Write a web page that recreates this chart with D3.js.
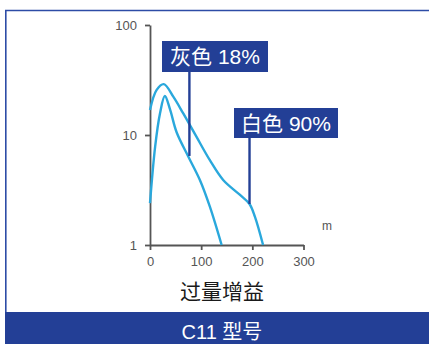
<!DOCTYPE html>
<html><head><meta charset="utf-8">
<script src="https://cdn.jsdelivr.net/npm/d3@7"></script>
<style>
html,body{margin:0;padding:0;background:#fff;}
svg{display:block;}
text{font-family:"Liberation Sans","Noto Sans CJK SC",sans-serif;}
</style></head>
<body>
<script>
// Data
const xTicks = [0, 100, 200, 300];
const yTicks = [1, 10, 100];
const grayX = [0, 10, 19.5, 29, 39, 52, 75, 97.5, 117, 140];
const grayY = [2.4, 7.8, 15.7, 22.6, 17.2, 10.6, 6.35, 3.9, 2.23, 1];
const whiteX = [0, 13, 27, 45.5, 65, 91, 117, 143, 176, 194.5, 205, 221];
const whiteY = [16.9, 25.7, 29, 22.3, 15.7, 9.6, 5.9, 3.9, 2.85, 2.36, 1.81, 1];
const labels = [
  {text: "灰色 18%", px: 77, pv: 6.45},
  {text: "白色 90%", px: 194.5, pv: 2.36}
];
const xTitle = "过量增益";
const unit = "m";
const footer = "C11 型号";

const W = 429, H = 344;
const blue = "#233f96", cyan = "#2aa8dc", axisC = "#555";

const svg = d3.select("body").append("svg").attr("width", W).attr("height", H);

// frame
svg.append("line").attr("x1", 5).attr("x2", W).attr("y1", 10.5).attr("y2", 10.5)
  .attr("stroke", "#2d4ca6").attr("stroke-width", 1.6);
svg.append("line").attr("x1", 5.8).attr("x2", 5.8).attr("y1", 10).attr("y2", 312)
  .attr("stroke", "#2d4ca6").attr("stroke-width", 1.6);
svg.append("rect").attr("x", 5).attr("y", 312).attr("width", W - 5).attr("height", H - 312).attr("fill", blue);
svg.append("text").attr("x", 222).attr("y", 339).attr("text-anchor", "middle")
  .attr("fill", "#fff").attr("font-size", 20).text(footer);

const x = d3.scaleLinear().domain([0, 300]).range([150, 303.5]);
const y = d3.scaleLog().domain([1, 100]).range([245, 25]);

// axes
const g = svg.append("g");
const xAxis = g.append("g").attr("transform", "translate(0,245)")
  .call(d3.axisBottom(x).tickValues(xTicks).tickSize(5).tickSizeOuter(0).tickPadding(7).tickFormat(d3.format("d")));
const yAxis = g.append("g").attr("transform", "translate(150,0)")
  .call(d3.axisLeft(y).tickValues(yTicks).tickSize(5).tickSizeOuter(0).tickPadding(8).tickFormat(d3.format("d")));
[xAxis, yAxis].forEach(a => {
  a.select(".domain").attr("stroke", axisC).attr("stroke-width", 1.8);
  a.selectAll(".tick line").attr("stroke", axisC).attr("stroke-width", 1.8);
  a.selectAll(".tick text").attr("fill", "#555").attr("font-size", 13).attr("font-family", "Liberation Sans");
});

// curves
const line = d3.line().x(d => x(d[0])).y(d => y(d[1])).curve(d3.curveCatmullRom.alpha(0.5));
svg.append("path").datum(whiteX.map((v, i) => [v, whiteY[i]]))
  .attr("d", line).attr("fill", "none").attr("stroke", cyan).attr("stroke-width", 2.4);
svg.append("path").datum(grayX.map((v, i) => [v, grayY[i]]))
  .attr("d", line).attr("fill", "none").attr("stroke", cyan).attr("stroke-width", 2.4);

// label boxes
const boxes = [
  {x0: 162, y0: 41, w: 106, h: 31},
  {x0: 234, y0: 108, w: 104, h: 30}
];
labels.forEach((l, i) => {
  const b = boxes[i];
  svg.append("line").attr("x1", x(l.px)).attr("x2", x(l.px)).attr("y1", b.y0 + b.h).attr("y2", y(l.pv))
    .attr("stroke", blue).attr("stroke-width", 2.4);
  svg.append("rect").attr("x", b.x0).attr("y", b.y0).attr("width", b.w).attr("height", b.h).attr("fill", blue);
  svg.append("text").attr("x", b.x0 + b.w / 2).attr("y", b.y0 + b.h / 2 + 7.5).attr("text-anchor", "middle")
    .attr("fill", "#fff").attr("font-size", 21).text(l.text);
});

// unit and title
svg.append("text").attr("x", 327).attr("y", 230).attr("text-anchor", "middle")
  .attr("fill", "#555").attr("font-size", 12).text(unit);
svg.append("text").attr("x", 222).attr("y", 299).attr("text-anchor", "middle")
  .attr("fill", "#1a1a1a").attr("font-size", 21).text(xTitle);
</script>
</body></html>
